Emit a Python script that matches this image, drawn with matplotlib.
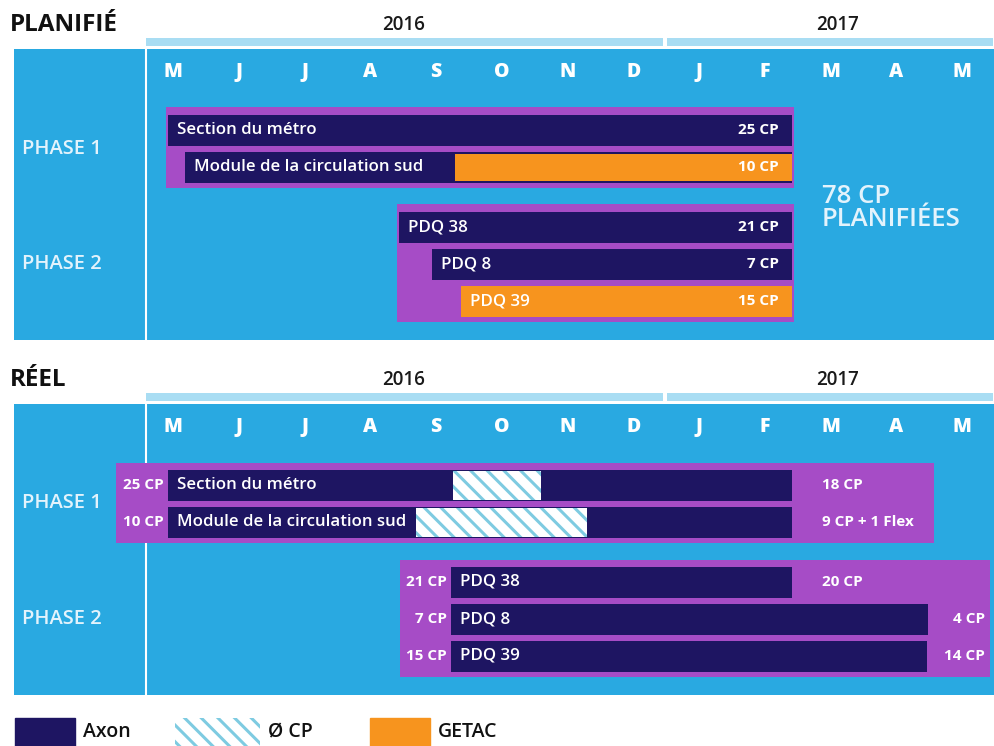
import numpy as np
import matplotlib
matplotlib.use("Agg")
import matplotlib.pyplot as plt
from matplotlib.patches import Rectangle

plt.rcParams['font.family'] = ['Open Sans', 'DejaVu Sans']
plt.rcParams['hatch.linewidth'] = 2.2

BLEU = '#29A9E1'
BLEU_PALE = '#A9DDF3'
VIOLET = '#A64CC6'
MARINE = '#1E1562'
ORANGE = '#F7941E'
HACHURE = '#7ECBE1'
TEXTE_PALE = '#E3F3FC'

# axe du temps : 0 = mai 2016
mois = ['M', 'J', 'J', 'A', 'S', 'O', 'N', 'D', 'J', 'F', 'M', 'A', 'M']
annees = ['2016', '2017']
mois_par_annee = [8, 5]

taches = ['Section du métro', 'Module de la circulation sud', 'PDQ 38', 'PDQ 8', 'PDQ 39']
phase_tache = [1, 1, 2, 2, 2]

# planifié : début / fin en mois, début de la partie GETAC
plan_debut = [-0.08, 0.18, 3.44, 3.94, 4.38]
plan_fin = [9.42, 9.42, 9.42, 9.42, 9.42]
plan_getac = [None, 4.29, None, None, 4.38]
plan_cp = ['25 CP', '10 CP', '21 CP', '7 CP', '15 CP']
total_planifie = '78 CP\nPLANIFIÉES'

# réel : début / fin en mois, période sans CP
reel_debut = [-0.08, -0.08, 4.23, 4.23, 4.23]
reel_fin = [9.42, 9.42, 9.42, 11.48, 11.47]
reel_sans_cp = [(4.26, 5.60), (3.70, 6.30), None, None, None]
reel_cp = ['18 CP', '9 CP + 1 Flex', '20 CP', '4 CP', '14 CP']
reel_boite_fin = [11.57, 12.43]

W, H = 994, 746
fig = plt.figure(figsize=(W / 100, H / 100), dpi=100)
fig.patch.set_facecolor('white')

# mise en page en pixels
X0 = 173.0      # position du premier mois
PAS = 65.75     # largeur d'un mois
HAUT_PANNEAU = 291
ROW0, PAS_ROW, SAUT_PHASE = 81, 37, 23
H_BARRE = 31


def rangee(i):
    return ROW0 + PAS_ROW * i + (SAUT_PHASE if phase_tache[i] == 2 else 0)


def fpx(x, y):
    return x / W, 1 - y / H


def panneau(haut_px, titre):
    ax = fig.add_axes([14 / W, 1 - (haut_px + HAUT_PANNEAU) / H, 980 / W, HAUT_PANNEAU / H])
    ax.set_xlim((14 - X0) / PAS, (994 - X0) / PAS)
    ax.set_ylim(HAUT_PANNEAU, 0)
    ax.set_facecolor(BLEU)
    ax.set_xticks([])
    ax.set_yticks([])
    for s in ax.spines.values():
        s.set_visible(False)

    sep = (146 - X0) / PAS
    ax.axvline(sep, color='white', lw=1.5, zorder=1)

    # bandeau des années
    debut = sep
    n = 0
    for k, (an, nb) in enumerate(zip(annees, mois_par_annee)):
        fin = n + nb - 0.5 if k < len(annees) - 1 else ax.get_xlim()[1]
        ax.add_patch(Rectangle((debut + (0.02 if k else 0), -11), fin - debut - 0.04, 8,
                               color=BLEU_PALE, clip_on=False, lw=0))
        ax.text(n + (nb - 1) / 2 + (0.1 if k else 0), -24, an, ha='center', va='center',
                fontsize=13.5, fontweight='semibold', color='#1a1a1a', clip_on=False)
        debut = fin
        n += nb

    for i, m in enumerate(mois):
        ax.text(i, 23, m, ha='center', va='center', fontsize=14,
                fontweight='heavy', color='white')

    for p in (1, 2):
        ys = [rangee(i) for i in range(len(taches)) if phase_tache[i] == p]
        ax.text((22 - X0) / PAS, np.mean(ys), f'PHASE {p}', ha='left', va='center',
                fontsize=14.5, fontweight='semibold', color=TEXTE_PALE)

    fig.text(*fpx(10, haut_px - 24), titre, ha='left', va='center', fontsize=17.5,
             fontweight='bold', color='#111111')
    return ax


ax1 = panneau(49, 'PLANIFIÉ')
ax2 = panneau(404, 'RÉEL')

# ---- planifié
for p in (1, 2):
    idx = [i for i in range(len(taches)) if phase_tache[i] == p]
    g = min(plan_debut[i] for i in idx) - 0.03
    d = max(plan_fin[i] for i in idx) + 0.03
    y_h = rangee(idx[0]) - 23
    y_b = rangee(idx[-1]) + 21
    ax1.add_patch(Rectangle((g, y_h), d - g, y_b - y_h, color=VIOLET, lw=0, zorder=2))

for i, t in enumerate(taches):
    y = rangee(i)
    ax1.barh(y, plan_fin[i] - plan_debut[i], left=plan_debut[i], height=H_BARRE,
             color=MARINE, zorder=3)
    if plan_getac[i] is not None:
        h = H_BARRE if plan_getac[i] <= plan_debut[i] else H_BARRE - 4
        ax1.barh(y, plan_fin[i] - plan_getac[i], left=plan_getac[i], height=h,
                 color=ORANGE, zorder=4)
    ax1.text(plan_debut[i] + 0.14, y, t, ha='left', va='center', fontsize=12.2,
             fontweight='semibold', color='white', zorder=5)
    ax1.text(plan_fin[i] - 0.21, y, plan_cp[i], ha='right', va='center', fontsize=11,
             fontweight='bold', color='white', zorder=5)

ax1.text((822 - X0) / PAS, 159, total_planifie, ha='left', va='center', fontsize=18.5,
         fontweight='semibold', color=TEXTE_PALE, linespacing=0.9)

# ---- réel
for k, p in enumerate((1, 2)):
    idx = [i for i in range(len(taches)) if phase_tache[i] == p]
    g = min(reel_debut[i] for i in idx) - 0.78
    d = reel_boite_fin[k]
    y_h = rangee(idx[0]) - 22
    y_b = rangee(idx[-1]) + 21
    ax2.add_patch(Rectangle((g, y_h), d - g, y_b - y_h, color=VIOLET, lw=0, zorder=2))

for i, t in enumerate(taches):
    y = rangee(i)
    ax2.barh(y, reel_fin[i] - reel_debut[i], left=reel_debut[i], height=H_BARRE,
             color=MARINE, zorder=3)
    if reel_sans_cp[i] is not None:
        a, b = reel_sans_cp[i]
        ax2.barh(y, b - a, left=a, height=H_BARRE - 2, color='white', edgecolor=HACHURE,
                 hatch='\\\\', lw=0, zorder=4)
    ax2.text(reel_debut[i] + 0.14, y, t, ha='left', va='center', fontsize=12.2,
             fontweight='semibold', color='white', zorder=5)
    ax2.text(reel_debut[i] - 0.07, y, plan_cp[i], ha='right', va='center', fontsize=11,
             fontweight='bold', color='white', zorder=5)
    boite = reel_boite_fin[phase_tache[i] - 1]
    if reel_fin[i] < boite - 1.5:
        ax2.text(reel_fin[i] + 0.45, y, reel_cp[i], ha='left', va='center', fontsize=11,
                 fontweight='bold', color='white', zorder=5)
    else:
        ax2.text(boite - 0.08, y, reel_cp[i], ha='right', va='center', fontsize=11,
                 fontweight='bold', color='white', zorder=5)

# ---- légende
legende = [('Axon', dict(color=MARINE), 15, 60),
           ('Ø CP', dict(facecolor='white', edgecolor=HACHURE, hatch='\\\\', lw=0), 175, 85),
           ('GETAC', dict(color=ORANGE), 370, 60)]
for nom, style, x, larg in legende:
    fig.patches.append(Rectangle(fpx(x, 760), larg / W, 42 / H, transform=fig.transFigure,
                                 figure=fig, **style))
    fig.text(*fpx(x + larg + 8, 732), nom, ha='left', va='center', fontsize=14,
             fontweight='semibold', color='#111111')

fig.savefig('out.png', dpi=100, facecolor='white')
